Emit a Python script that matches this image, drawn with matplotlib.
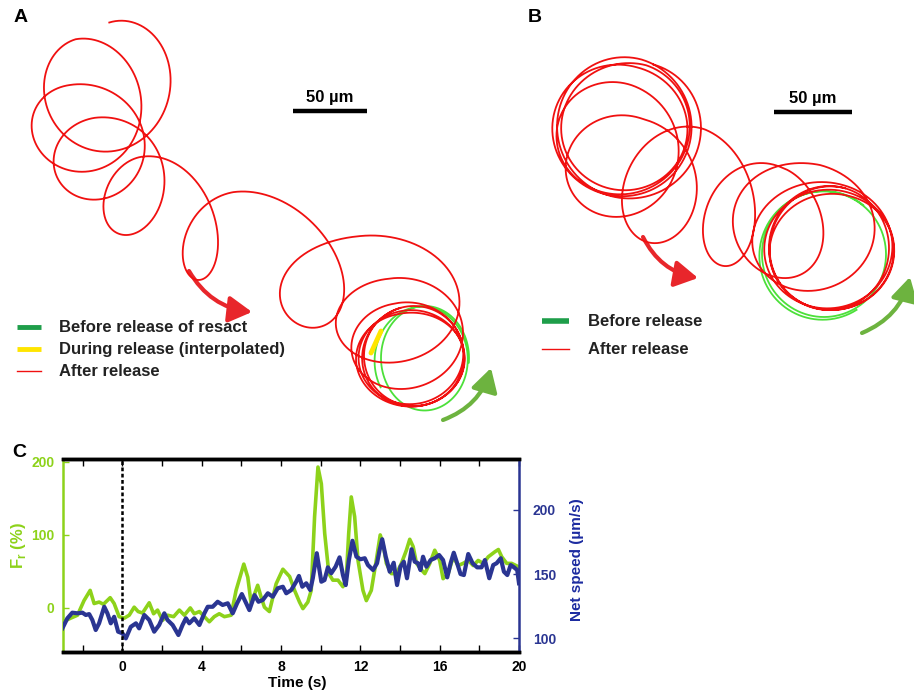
import numpy as np
import matplotlib
matplotlib.use('Agg')
import matplotlib.pyplot as plt
from matplotlib.patches import FancyArrowPatch

plt.rcParams['font.family'] = ['Liberation Sans', 'DejaVu Sans']
plt.rcParams['mathtext.fontset'] = 'custom'
plt.rcParams['mathtext.bf'] = 'Liberation Sans:bold'
plt.rcParams['mathtext.rm'] = 'Liberation Sans:bold'

# ---------------- Panel C data ----------------
green_t = [-3.0, -2.61, -2.27, -1.94, -1.63, -1.43, -1.18, -0.96, -0.62, -0.42,
           -0.17, 0.09, 0.34, 0.59, 0.79, 1.01, 1.35, 1.57, 1.77, 2.02,
           2.27, 2.58, 2.87, 3.12, 3.42, 3.62, 3.88, 4.13, 4.38, 4.63,
           4.88, 5.14, 5.48, 5.73, 6.12, 6.32, 6.49, 6.82, 6.99, 7.16,
           7.41, 7.75, 8.09, 8.43, 8.68, 8.93, 9.1, 9.35, 9.52, 9.69,
           9.86, 10.03, 10.2, 10.41, 10.61, 10.87, 11.12, 11.29, 11.41, 11.54,
           11.71, 11.88, 12.13, 12.3, 12.55, 12.8, 13.0, 13.14, 13.31, 13.56,
           13.82, 14.07, 14.32, 14.49, 14.66, 14.83, 15.08, 15.25, 15.5, 15.75,
           16.0, 16.17, 16.43, 16.68, 16.93, 17.18, 17.44, 17.69, 17.94, 18.2,
           18.45, 18.79, 18.96, 19.13, 19.38, 19.63, 20.0]
green_v = [-19, -14, -10, 10, 24, 6, 8, 5, 14, 6,
           -12, -14, -10, 1, -5, -7, 7, -8, -3, -17,
           -10, -12, -3, -10, 0, -8, -5, -12, -19, -12,
           -8, -12, -10, 24, 60, 42, 6, 31, 15, 1,
           -5, 33, 53, 43, 24, 8, -1, 8, 24, 125,
           193, 170, 102, 47, 38, 38, 29, 42, 102, 152,
           125, 65, 24, 10, 24, 65, 100, 88, 61, 47,
           47, 61, 79, 94, 84, 61, 52, 47, 61, 79,
           65, 40, 47, 70, 58, 61, 65, 58, 65, 61,
           70, 77, 80, 70, 61, 61, 56]

blue_t = [-3.03, -2.78, -2.53, -2.27, -2.02, -1.85, -1.68, -1.52, -1.35, -1.18,
          -0.92, -0.76, -0.59, -0.42, -0.22, 0.0, 0.17, 0.42, 0.68, 0.84,
          1.1, 1.35, 1.6, 1.85, 2.11, 2.27, 2.53, 2.82, 3.03, 3.2,
          3.37, 3.62, 3.88, 4.13, 4.3, 4.55, 4.8, 5.05, 5.31, 5.56,
          5.78, 6.02, 6.24, 6.4, 6.66, 6.86, 7.08, 7.33, 7.58, 7.83,
          8.09, 8.26, 8.51, 8.76, 8.9, 9.07, 9.27, 9.47, 9.6, 9.8,
          10.03, 10.19, 10.36, 10.53, 10.75, 10.95, 11.12, 11.26, 11.42, 11.6,
          11.8, 12.0, 12.22, 12.38, 12.64, 12.84, 12.97, 13.1, 13.28, 13.48,
          13.68, 13.85, 14.02, 14.19, 14.35, 14.58, 14.74, 14.91, 15.03, 15.16,
          15.33, 15.54, 15.75, 15.97, 16.17, 16.38, 16.55, 16.71, 16.88, 17.05,
          17.22, 17.44, 17.66, 17.89, 18.11, 18.28, 18.5, 18.7, 18.87, 19.08,
          19.24, 19.41, 19.58, 19.75, 19.91, 20.0]
blue_v = [107.8, 115.6, 120, 119.5, 120, 118.2, 118.9, 114.3, 106.5, 111.7,
          124.6, 119.5, 111.7, 116.8, 105.2, 103.9, 100, 109, 111.7, 107.8,
          118.2, 114.3, 105.2, 110.4, 119.5, 114.3, 110.4, 102.6, 110.4, 115.6,
          111.7, 115.6, 110.4, 119.5, 124.6, 124.6, 128.5, 126, 127.3, 119.5,
          127.3, 134.5, 127.3, 122, 133.7, 128.5, 129.9, 135.1, 132.4, 139,
          140.2, 135.1, 137.6, 144.1, 148.6, 140.2, 142.9, 137.6, 146.8, 166.3,
          144.1, 145.4, 155.3, 150.7, 155.8, 163.1, 149.3, 141.5, 161, 176,
          163.6, 161.6, 162.4, 157.1, 153.2, 158.5, 168.8, 177.2, 163.6, 151.9,
          158.9, 141.5, 155.8, 159.7, 146.8, 169.4, 159.7, 158.5, 153.2, 163.6,
          155.8, 161, 162.4, 164.9, 161, 147.5, 158.5, 166.7, 158.5, 150.1,
          149.3, 165.7, 158.5, 155.3, 155.3, 161, 146.8, 157.1, 158.5, 162.4,
          151.9, 149.3, 157.1, 155.3, 153.2, 142.9]

x_major = [0, 4, 8, 12, 16, 20]
x_minor = [-2, 2, 6, 10, 14, 18]
left_ticks = [0, 100, 200]
right_ticks = [100, 150, 200]

# ---------------- Trajectory loops (image pixel units) ----------------
# Panel A: after release (red)
A_cx = [125, 90, 85, 108, 150, 245, 380, 404, 408, 412, 410, 414]
A_cy = [85, 95, 135, 163, 205, 245, 292, 325, 352, 358, 360, 356]
A_rx = [57, 52, 55, 48, 34, 42, 78, 59, 55, 52, 55, 50]
A_ry = [65, 58, 52, 47, 50, 55, 58, 48, 50, 48, 47, 50]
# Panel A: before release (green)
Ag_cx = [420, 425]
Ag_cy = [360, 358]
Ag_rx = [46, 44]
Ag_ry = [53, 52]

# Panel B: after release (red)
B_cx = [635, 623, 619, 629, 615, 628, 692, 770, 802, 826, 830, 833, 829]
B_cy = [130, 128, 129, 125, 143, 175, 191, 222, 220, 245, 250, 252, 248]
B_rx = [68, 70, 67, 64, 62, 57, 47, 40, 68, 66, 64, 62, 60]
B_ry = [68, 71, 64, 62, 60, 58, 64, 57, 57, 62, 60, 58, 62]
# Panel B: before release (green)
Bg_cx = [822, 824]
Bg_cy = [256, 254]
Bg_rx = [64, 62]
Bg_ry = [64, 63]

RED = '#F01010'
GREEN_TRAJ = '#4CE03A'
GREEN_LEG = '#1E9E4A'
YELLOW = '#FFE500'
C_GREEN = '#8DD21A'
C_BLUE = '#2A3592'


def loop_path(cx, cy, rx, ry, theta0, n_per=300, tail=1.0):
    xs, ys = [], []
    n = len(cx)
    for i in range(n - 1):
        s = np.linspace(0, 1, n_per, endpoint=False)
        c_x = cx[i] + s * (cx[i + 1] - cx[i])
        c_y = cy[i] + s * (cy[i + 1] - cy[i])
        r_x = rx[i] + s * (rx[i + 1] - rx[i])
        r_y = ry[i] + s * (ry[i + 1] - ry[i])
        th = theta0 + 2 * np.pi * (i + s)
        xs.append(c_x + r_x * np.cos(th))
        ys.append(c_y + r_y * np.sin(th))
    s = np.linspace(0, tail, int(n_per * tail))
    th = theta0 + 2 * np.pi * (n - 1 + s)
    xs.append(cx[-1] + rx[-1] * np.cos(th))
    ys.append(cy[-1] + ry[-1] * np.sin(th))
    return np.concatenate(xs), np.concatenate(ys)


fig = plt.figure(figsize=(9.14, 6.91), dpi=100)
bg = fig.add_axes([0, 0, 1, 1])
bg.set_xlim(0, 914)
bg.set_ylim(691, 0)
bg.axis('off')

# Panel A trajectories
x, y = loop_path(A_cx, A_cy, A_rx, A_ry, -1.85)
bg.plot(x, y, color=RED, lw=1.3)
x, y = loop_path(Ag_cx, Ag_cy, Ag_rx, Ag_ry, 2.6, tail=0.6)
bg.plot(x, y, color=GREEN_TRAJ, lw=1.3, zorder=1)
bg.plot([381, 376, 371], [331, 342, 353], color=YELLOW, lw=3.5, solid_capstyle='round', zorder=3)

# Panel B trajectories
x, y = loop_path(B_cx, B_cy, B_rx, B_ry, -1.3)
bg.plot(x, y, color=RED, lw=1.3, zorder=2)
x, y = loop_path(Bg_cx, Bg_cy, Bg_rx, Bg_ry, 1.0, tail=0.7)
bg.plot(x, y, color=GREEN_TRAJ, lw=1.3, zorder=1)

# arrows
for (p0, p1, col, rad) in [((189, 271), (252, 312), '#E8262B', 0.25),
                           ((643, 237), (698, 278), '#E8262B', 0.25),
                           ((443, 420), (491, 368), '#6DB33F', 0.25),
                           ((862, 333), (910, 277), '#6DB33F', 0.25)]:
    bg.add_patch(FancyArrowPatch(p0, p1, connectionstyle=f'arc3,rad={rad}',
                                 arrowstyle='-|>,head_length=0.7,head_width=0.4',
                                 mutation_scale=20, color=col, lw=3, shrinkA=0, shrinkB=0))

# scale bars
bg.plot([293, 367], [111, 111], color='black', lw=3.2, solid_capstyle='butt')
bg.text(330, 97, '50 µm', ha='center', va='center', fontsize=12, fontweight='bold')
bg.plot([774, 852], [112, 112], color='black', lw=3.2, solid_capstyle='butt')
bg.text(813, 98, '50 µm', ha='center', va='center', fontsize=12, fontweight='bold')

# panel labels
bg.text(14, 17, 'A', fontsize=14, fontweight='bold', va='center', ha='left')
bg.text(535, 17, 'B', fontsize=14, fontweight='bold', va='center', ha='center')
bg.text(12, 452, 'C', fontsize=14, fontweight='bold', va='center', ha='left')

# legends
bg.plot([17, 41], [327, 327], color=GREEN_LEG, lw=3.5, solid_capstyle='butt')
bg.plot([17, 41], [349, 349], color=YELLOW, lw=3.5, solid_capstyle='butt')
bg.plot([17, 41], [371, 371], color=RED, lw=1.0)
for yy, t in zip([327, 349, 371], ['Before release of resact', 'During release (interpolated)', 'After release']):
    bg.text(59, yy, t, fontsize=12, fontweight='bold', va='center', ha='left', color='#222222')
bg.plot([542, 569], [321, 321], color=GREEN_LEG, lw=4, solid_capstyle='butt')
bg.plot([542, 569], [349, 349], color=RED, lw=1.0)
for yy, t in zip([321, 349], ['Before release', 'After release']):
    bg.text(588, yy, t, fontsize=12, fontweight='bold', va='center', ha='left', color='#222222')

# ---------------- Panel C ----------------
L, R, T, B = 63, 519, 459, 651.7
axC = fig.add_axes([L / 914, 1 - B / 691, (R - L) / 914, (B - T) / 691])
ax2 = axC.twinx()
axC.plot(green_t, green_v, color=C_GREEN, lw=2.6, solid_joinstyle='round')
ax2.plot(blue_t, blue_v, color=C_BLUE, lw=3.0, solid_joinstyle='round')
ax2.axvline(0, color='black', lw=1.8, ls=(0, (1.5, 1)))
axC.set_xlim(-3, 20)
axC.set_ylim(-60, 204)
ax2.set_ylim(89.6, 239.7)

axC.set_xticks(x_major)
axC.set_xticks(x_minor, minor=True)
axC.set_xticklabels([str(v) for v in x_major], fontweight='bold', fontsize=10)
axC.set_yticks(left_ticks)
axC.set_yticklabels([str(v) for v in left_ticks], fontweight='bold', fontsize=10, color=C_GREEN)
ax2.set_yticks(right_ticks)
ax2.set_yticklabels([str(v) for v in right_ticks], fontweight='bold', fontsize=10, color=C_BLUE)
axC.tick_params(axis='x', which='both', direction='in', top=True, bottom=True, length=5, width=1, pad=6)
axC.tick_params(axis='y', direction='in', length=4, width=1, color=C_GREEN, pad=6)
ax2.tick_params(axis='y', direction='in', length=4, width=1, color=C_BLUE, pad=10)
ax2.tick_params(axis='x', which='both', direction='in', top=True, bottom=True, length=5)

for a in (axC, ax2):
    a.spines['top'].set_linewidth(2.5)
    a.spines['bottom'].set_linewidth(2.5)
axC.spines['left'].set_color(C_GREEN)
axC.spines['left'].set_linewidth(1.8)
axC.spines['right'].set_visible(False)
ax2.spines['left'].set_visible(False)
ax2.spines['right'].set_color(C_BLUE)
ax2.spines['right'].set_linewidth(1.8)

axC.set_xlabel('Time (s)', fontweight='bold', fontsize=11, va='center')
axC.xaxis.set_label_coords((297 - L) / (R - L), -(683 - B) / (B - T))
axC.set_ylabel(r'F$_\mathbf{r}$ (%)', color=C_GREEN, fontweight='bold', fontsize=12, va='center')
axC.yaxis.set_label_coords((18 - L) / (R - L), (B - 545) / (B - T))
ax2.set_ylabel('Net speed (µm/s)', color='#1C2BA0', fontweight='bold', fontsize=11, va='center')
ax2.yaxis.set_label_coords((577 - L) / (R - L), (B - 560) / (B - T))

fig.savefig('out.png', dpi=100)
